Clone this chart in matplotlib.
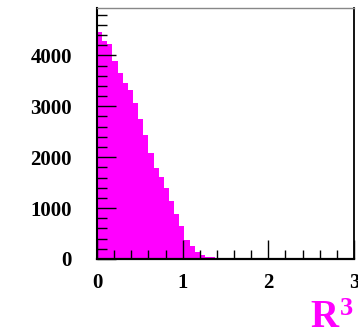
import numpy as np
import matplotlib
matplotlib.use("Agg")
import matplotlib.pyplot as plt
from matplotlib.ticker import MultipleLocator

# histogram of R^3, 50 bins from 0 to 3
bin_lo = 0.0
bin_hi = 3.0
counts = [4450, 4290, 4220, 3890, 3660, 3450, 3310, 3060, 2740, 2435,
          2090, 1780, 1615, 1385, 1140, 880, 650, 370, 250, 140,
          75, 47, 33, 18, 10, 6, 4, 2, 0, 0,
          0, 0, 0, 0, 0, 0, 0, 0, 0, 0,
          0, 0, 0, 0, 0, 0, 0, 0, 0, 0]
x_ticks = [0, 1, 2, 3]
y_ticks = [0, 1000, 2000, 3000, 4000]
y_max = 4930

edges = np.linspace(bin_lo, bin_hi, len(counts) + 1)

plt.rcParams['font.family'] = ['Liberation Serif', 'DejaVu Serif']
plt.rcParams['font.weight'] = 'bold'

fig = plt.figure(figsize=(3.58, 3.32), dpi=100)
ax = fig.add_axes([97 / 358, 73 / 332, 257 / 358, 251 / 332])

ax.stairs(counts, edges, fill=True, color='#ff00ff', linewidth=0)

ax.set_xlim(bin_lo, bin_hi)
ax.set_ylim(0, y_max)

ax.set_xticks(x_ticks)
ax.set_yticks(y_ticks)
ax.xaxis.set_minor_locator(MultipleLocator(0.2))
ax.yaxis.set_minor_locator(MultipleLocator(200))
ax.tick_params(axis='y', which='major', direction='in', length=14, width=1.0,
               pad=18, labelsize=15, right=False)
ax.tick_params(axis='y', which='minor', direction='in', length=7, width=1.0, right=False)
ax.tick_params(axis='x', which='major', direction='in', length=13.5, width=1.0,
               pad=10, labelsize=15, top=False)
ax.tick_params(axis='x', which='minor', direction='in', length=6.8, width=1.0, top=False)
for lab in ax.get_xticklabels() + ax.get_yticklabels():
    lab.set_fontweight('bold')

ax.spines['left'].set_linewidth(1.5)
ax.spines['bottom'].set_linewidth(1.6)
ax.spines['right'].set_linewidth(1.3)
ax.spines['top'].set_linewidth(1.0)
ax.spines['top'].set_color('#888888')

# axis title in magenta, ROOT style at bottom right
fig.text(338 / 358, 1 - 327 / 332, 'R', color='#ff00ff', fontsize=28,
         fontweight='bold', ha='right', va='baseline')
fig.text(340 / 358, 1 - 315 / 332, '3', color='#ff00ff', fontsize=19,
         fontweight='bold', ha='left', va='baseline')

fig.savefig('out.png', dpi=100)
